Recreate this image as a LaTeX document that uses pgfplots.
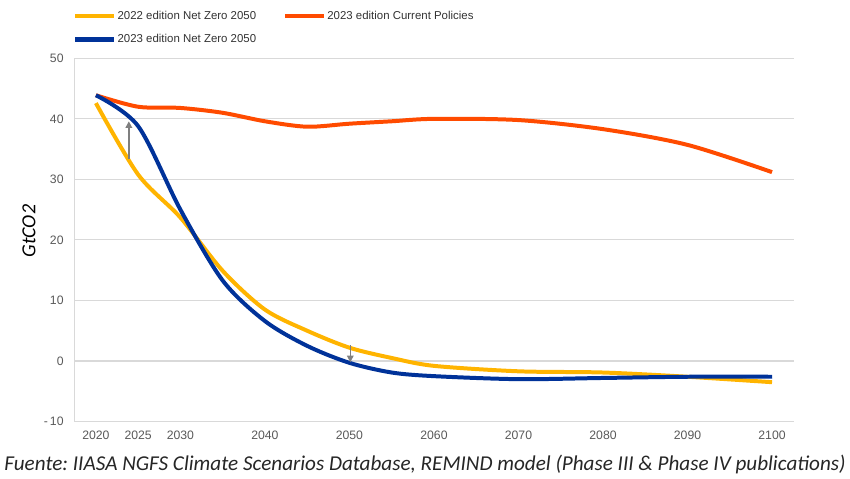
\documentclass[border=0pt]{standalone}
\usepackage{pgfplots}
\pgfplotsset{compat=1.18}
\usepackage{fontspec}
\setmainfont{Liberation Sans}
\newfontfamily\carlito{Carlito}
\usetikzlibrary{arrows.meta}
\definecolor{ecbyellow}{HTML}{FFB400}
\definecolor{ecborange}{HTML}{FF4B00}
\definecolor{ecbblue}{HTML}{003299}
\definecolor{tickgray}{HTML}{595959}
\definecolor{gridgray}{HTML}{D9D9D9}
\definecolor{arrowgray}{HTML}{7F7F7F}
\frenchspacing
\begin{document}
\begin{tikzpicture}
\begin{axis}[
  at={(0pt,0pt)}, anchor=south west,
  scale only axis,
  width=540.75pt, height=273.15pt,
  xmin=2017.52, xmax=2102.6,
  ymin=-10, ymax=50,
  xtick={2020,2025,2030,2040,2050,2060,2070,2080,2090,2100},
  xticklabels={2020,2025,2030,2040,2050,2060,2070,2080,2090,2100},
  ytick={-10,0,10,20,30,40,50},
  yticklabels={{-\,10},0,10,20,30,40,50},
  tick label style={font=\fontsize{9.2}{11}\selectfont, text=tickgray},
  yticklabel style={xshift=-5pt},
  xticklabel style={yshift=-3.5pt},
  major tick length=0pt,
  axis lines=left,
  axis line style={-, draw=gridgray, line width=0.8pt},
  ymajorgrids,
  grid style={draw=gridgray, line width=0.8pt},
  ylabel={GtCO2},
  ylabel style={font=\carlito\itshape\fontsize{15}{18}\selectfont, at={(axis description cs:-0.0638,0.524)}, anchor=center, rotate=0},
  legend columns=2,
  legend style={at={(axis description cs:-0.003,1.135)}, anchor=north west, draw=none, fill=none,
    inner sep=0pt, font=\fontsize{8.6}{10}\selectfont, text=black!80,
    row sep=8pt, nodes={inner xsep=1pt, inner ysep=1pt}},
  legend cell align=left,
  /tikz/every even column/.append style={column sep=19pt},
  legend image code/.code={\draw[#1, line width=3.5pt] (0pt,0pt) -- (29pt,0pt);},
  clip=false,
]
\addplot[ecbyellow, line width=3pt, smooth] coordinates {
(2020,42.6) (2025,30.8) (2030,23.7) (2035,14.9) (2040,8.5) (2045,5.0) (2050,2.2) (2055,0.5) (2060,-0.8) (2070,-1.7) (2080,-1.9) (2090,-2.6) (2100,-3.5)};
\addlegendentry{2022 edition Net Zero 2050}
\addplot[ecborange, line width=3pt, smooth] coordinates {
(2020,43.9) (2025,42.0) (2030,41.8) (2035,41.0) (2040,39.6) (2045,38.7) (2050,39.2) (2055,39.6) (2060,40.0) (2070,39.8) (2080,38.3) (2090,35.7) (2100,31.2)};
\addlegendentry{2023 edition Current Policies}
\addplot[ecbblue, line width=3pt, smooth] coordinates {
(2020,43.9) (2025,38.8) (2030,25.0) (2035,13.3) (2040,6.6) (2045,2.5) (2050,-0.3) (2055,-1.9) (2060,-2.5) (2070,-3.0) (2080,-2.8) (2090,-2.6) (2100,-2.6)};
\addlegendentry{2023 edition Net Zero 2050}
\addplot[arrowgray, line width=1pt, -{Triangle[length=5pt,width=5pt]}, forget plot] coordinates {(2023.9,33.3) (2023.9,39.6)};
\addplot[arrowgray, line width=1pt, -{Triangle[length=5pt,width=5pt]}, forget plot] coordinates {(2050.1,2.6) (2050.1,-0.2)};
\end{axis}
\node[font=\carlito\itshape\fontsize{15.9}{18}\selectfont, text=black!85] at (263.25pt,-32.5pt) {Fuente: IIASA NGFS Climate Scenarios Database, REMIND model (Phase III \& Phase IV publications)};
\path (-55.5pt,-41.5pt) rectangle (582pt,317pt);
\end{tikzpicture}
\end{document}
